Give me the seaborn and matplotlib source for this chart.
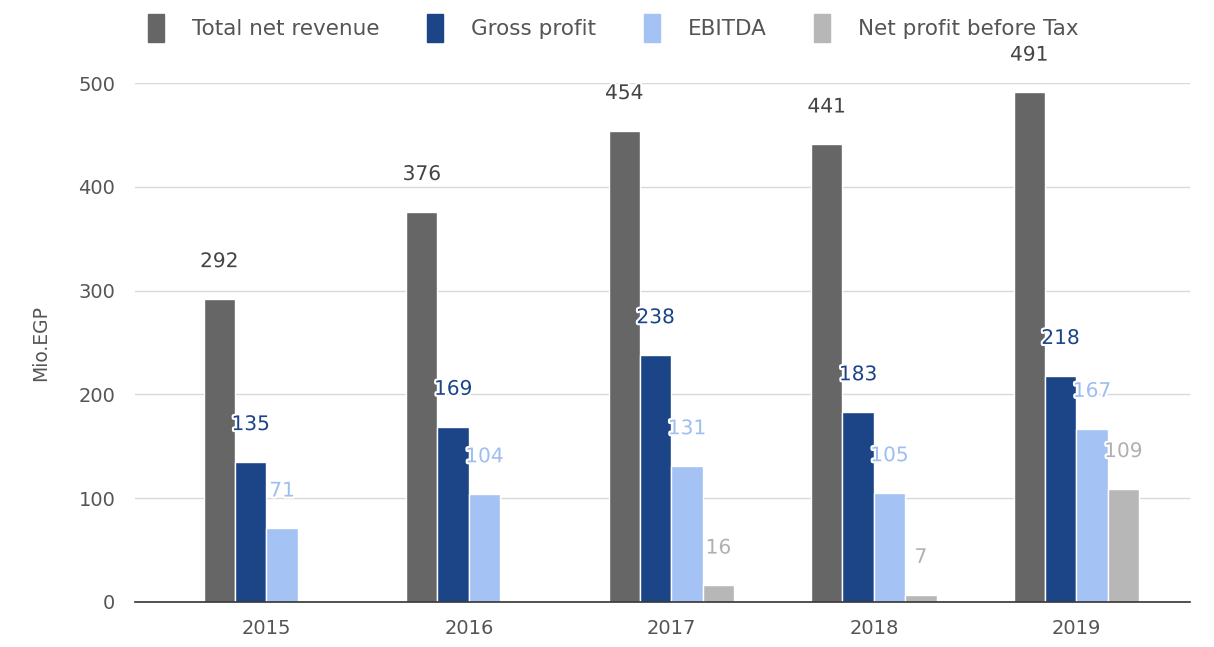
import pandas as pd
import matplotlib.pyplot as plt
import matplotlib.patheffects as pe
import seaborn as sns

# values (Mio. EGP)
years = ["2015", "2016", "2017", "2018", "2019"]
metrics = ["Total net revenue", "Gross profit", "EBITDA", "Net profit before Tax"]
total_revenue = [292, 376, 454, 441, 491]
gross_profit = [135, 169, 238, 183, 218]
ebitda = [71, 104, 131, 105, 167]
net_profit = [None, None, 16, 7, 109]

bar_colors = ["#666666", "#1c4587", "#a4c2f4", "#b7b7b7"]
label_colors = ["#444444", "#1c4587", "#9fbef0", "#b0b0b0"]

# long-form table for seaborn
rows = []
for name, vals in zip(metrics, [total_revenue, gross_profit, ebitda, net_profit]):
    for y, v in zip(years, vals):
        if v is not None:
            rows.append({"Year": y, "Metric": name, "Value": v})
df = pd.DataFrame(rows)

sns.set_style("white")
plt.rcParams["font.family"] = ["DejaVu Sans"]

fig = plt.figure(figsize=(12.14, 6.47), dpi=100)
ax = fig.add_axes([0.111, 0.0696, 0.869, 0.802])

sns.barplot(data=df, x="Year", y="Value", hue="Metric", order=years,
            hue_order=metrics, palette=bar_colors, width=0.62,
            saturation=1, legend=False, ax=ax)

# value labels above each bar, with a white halo
for cont, col in zip(ax.containers, label_colors):
    texts = ax.bar_label(cont, fmt="%d", padding=20, color=col, fontsize=14.5)
    for t in texts:
        t.set_path_effects([pe.withStroke(linewidth=3, foreground="white")])

ax.set_ylim(0, 500)
ax.set_xlim(-0.65, 4.56)
ax.set_yticks([0, 100, 200, 300, 400, 500])
ax.yaxis.grid(True, color="#d9d9d9", linewidth=1)
ax.set_axisbelow(True)
for s in ["top", "right", "left"]:
    ax.spines[s].set_visible(False)
ax.spines["bottom"].set_color("#333333")
ax.spines["bottom"].set_linewidth(1.2)
ax.tick_params(axis="both", length=0, labelsize=14, labelcolor="#555555")
ax.tick_params(axis="y", pad=14)
ax.tick_params(axis="x", pad=12)
ax.set_xlabel("")
ax.set_ylabel("Mio.EGP", fontsize=13.5, color="#555555", labelpad=20)

handles = [plt.Rectangle((0, 0), 1, 1, color=c) for c in bar_colors]
fig.legend(handles, metrics, loc="upper left", bbox_to_anchor=(0.106, 1.008),
           ncol=4, frameon=False, fontsize=15.5, labelcolor="#555555",
           handlelength=0.75, handleheight=1.6, handletextpad=1.3,
           columnspacing=2.2)

fig.savefig("out.png", dpi=100)
